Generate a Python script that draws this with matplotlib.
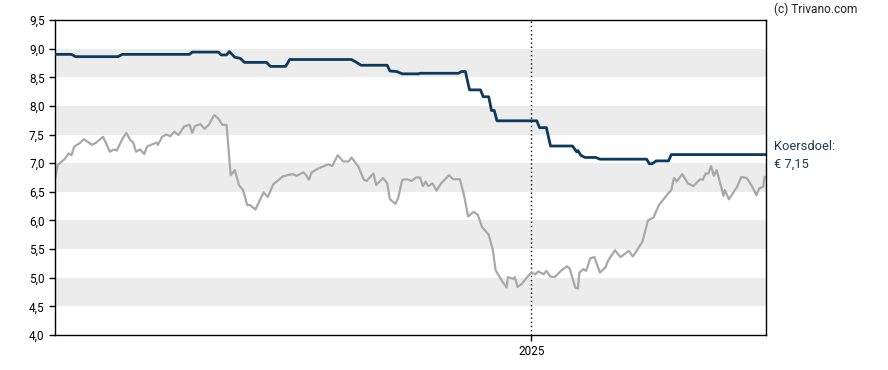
import numpy as np
import pandas as pd
import matplotlib
matplotlib.use("Agg")
import matplotlib.pyplot as plt
import matplotlib.dates as mdates
from matplotlib.ticker import FixedLocator, FuncFormatter

plt.rcParams['font.family'] = ['Roboto', 'DejaVu Sans']

start = pd.Timestamp('2024-01-20')

# koers (grijs): dagen sinds start, waarde
koers_dag = [0, 2, 7, 10, 12, 14, 18, 21, 27, 30, 35, 40, 43, 45, 49, 52, 55, 57, 59, 62,
             65, 67, 71, 74, 75, 78, 81, 84, 87, 90, 94, 98, 100, 102, 106, 109, 112, 116, 119, 122,
             125, 128, 131, 134, 137, 140, 142, 146, 152, 155, 159, 166, 173, 176, 181, 183, 185, 187, 192, 199,
             202, 206, 210, 214, 216, 221, 225, 227, 232, 234, 239, 242, 244, 248, 250, 253, 256, 260, 263, 266,
             268, 270, 272, 275, 278, 281, 287, 290, 295, 298, 301, 305, 308, 311, 316, 319, 321, 324, 326, 329,
             330, 334, 335, 337, 340, 344, 347, 350, 352, 356, 358, 361, 364, 369, 373, 375, 379, 381, 382, 385,
             387, 390, 393, 397, 401, 403, 408, 412, 418, 421, 428, 432, 436, 440, 447, 449, 451, 453, 457, 461,
             465, 470, 472, 474, 476, 478, 480, 482, 485, 487, 488, 491, 497, 500, 504, 508, 511, 513, 516, 517]
koers = [6.71, 6.97, 7.07, 7.17, 7.14, 7.29, 7.35, 7.42, 7.32, 7.36, 7.46, 7.20, 7.24, 7.22, 7.42, 7.53, 7.40, 7.36, 7.20, 7.24,
         7.16, 7.29, 7.33, 7.36, 7.32, 7.46, 7.50, 7.47, 7.55, 7.49, 7.64, 7.67, 7.53, 7.65, 7.68, 7.60, 7.67, 7.84, 7.78, 7.67,
         7.67, 6.79, 6.88, 6.62, 6.53, 6.27, 6.27, 6.19, 6.49, 6.41, 6.63, 6.77, 6.81, 6.78, 6.84, 6.79, 6.71, 6.84, 6.91, 6.98,
         6.95, 7.14, 7.03, 7.03, 7.10, 6.94, 6.71, 6.69, 6.82, 6.62, 6.74, 6.65, 6.37, 6.29, 6.39, 6.71, 6.72, 6.69, 6.75, 6.75,
         6.60, 6.68, 6.60, 6.65, 6.52, 6.64, 6.79, 6.72, 6.72, 6.44, 6.07, 6.15, 6.10, 5.89, 5.75, 5.48, 5.13, 5.01, 4.93, 4.83,
         5.01, 4.98, 5.01, 4.84, 4.89, 5.01, 5.09, 5.06, 5.11, 5.06, 5.12, 5.02, 5.01, 5.13, 5.20, 5.16, 4.83, 4.81, 5.09, 5.15,
         5.12, 5.34, 5.36, 5.09, 5.18, 5.30, 5.48, 5.36, 5.47, 5.37, 5.63, 6.00, 6.05, 6.27, 6.48, 6.53, 6.74, 6.68, 6.81, 6.65,
         6.60, 6.72, 6.71, 6.82, 6.82, 6.95, 6.78, 6.88, 6.62, 6.43, 6.53, 6.37, 6.59, 6.76, 6.74, 6.59, 6.44, 6.56, 6.59, 6.76]

# koersdoel (blauw)
doel_dag = [0, 12, 15, 46, 49, 98, 100, 119, 121, 125, 127, 131, 135, 138, 154, 157, 168, 171, 216, 219,
            223, 242, 244, 249, 253, 265, 266, 294, 296, 299, 302, 310, 312, 316, 318, 320, 322, 351, 353, 358,
            361, 377, 380, 381, 383, 386, 394, 397, 431, 433, 435, 438, 447, 449, 517]
doel = [8.90, 8.90, 8.86, 8.86, 8.90, 8.90, 8.94, 8.94, 8.89, 8.89, 8.95, 8.85, 8.83, 8.76, 8.76, 8.69, 8.69, 8.81, 8.81, 8.77,
        8.71, 8.71, 8.61, 8.60, 8.56, 8.56, 8.57, 8.57, 8.60, 8.60, 8.28, 8.28, 8.16, 8.16, 7.92, 7.92, 7.74, 7.74, 7.62, 7.62,
        7.30, 7.30, 7.20, 7.22, 7.14, 7.10, 7.10, 7.07, 7.07, 6.99, 6.99, 7.04, 7.04, 7.15, 7.15]

y_ticks = [4.0, 4.5, 5.0, 5.5, 6.0, 6.5, 7.0, 7.5, 8.0, 8.5, 9.0, 9.5]
bands = [(4.5, 5.0), (5.5, 6.0), (6.5, 7.0), (7.5, 8.0), (8.5, 9.0)]

koers_x = start + pd.to_timedelta(koers_dag, unit='D')
doel_x = start + pd.to_timedelta(doel_dag, unit='D')
jaar = pd.Timestamp('2025-01-01')

fig = plt.figure(figsize=(8.88, 3.70), dpi=100)
ax = fig.add_axes([55/888, 35/370, 711/888, 315/370])

for lo, hi in bands:
    ax.axhspan(lo, hi, color='#ececec', lw=0, zorder=0)

ax.axvline(jaar, color='black', lw=1, ls=(0, (1, 2)), zorder=1)
ax.plot(koers_x, koers, color='#a8a8a8', lw=1.6, zorder=2)
ax.plot(doel_x, doel, color='#0d3a5c', lw=2, zorder=3)

ax.set_xlim(start, start + pd.Timedelta(days=518))
ax.set_ylim(4.0, 9.5)
ax.yaxis.set_major_locator(FixedLocator(y_ticks))
ax.yaxis.set_major_formatter(FuncFormatter(lambda v, p: f"{v:.1f}".replace('.', ',')))
ax.xaxis.set_major_locator(FixedLocator([mdates.date2num(jaar)]))
ax.xaxis.set_major_formatter(FuncFormatter(lambda v, p: "2025"))
ax.tick_params(axis='both', labelsize=8.5, colors='black', length=4, width=1, direction='out')

for s in ax.spines.values():
    s.set_color('black')
    s.set_linewidth(1)

fig.text(774/888, 1 - 9/370, "(c) Trivano.com", fontsize=8.6, color='#222222', va='center', ha='left')
fig.text(774/888, 1 - 146/370, "Koersdoel:", fontsize=9.3, color='#1d3a55', va='center', ha='left')
fig.text(774/888, 1 - 164/370, "€ 7,15", fontsize=9.3, color='#1d3a55', va='center', ha='left')

fig.savefig("out.png", dpi=100)
